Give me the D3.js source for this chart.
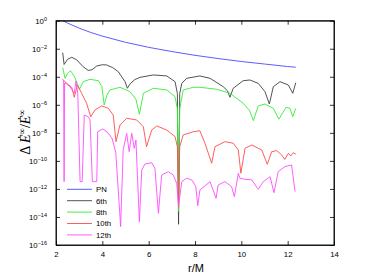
<!DOCTYPE html>
<html>
<head>
<meta charset="utf-8">
<script src="https://cdn.jsdelivr.net/npm/d3@7"></script>
<style>
  html, body { margin: 0; padding: 0; background: #fff; }
  svg { display: block; }
  .axis text { font-family: "Liberation Sans", Arial, sans-serif; font-size: 7.8px; fill: #000; }
  .axis path, .axis line { stroke: #000; stroke-width: 0.8; }
</style>
</head>
<body>
<svg id="chart" width="369" height="277"></svg>
<script>
// Values are [r/M, log10(relative error)]
const seriesNames = ['PN', '6th', '8th', '10th', '12th']
const seriesColors = ['#4a4aff', '#404040', '#33ee33', '#ff4c4c', '#ff4cff']

const pnData = [
  [2.29, 0], [2.5, -0.17], [3, -0.53], [3.5, -0.84], [4, -1.10], [5, -1.54], [6, -1.90],
  [7, -2.20], [8, -2.47], [9, -2.70], [10, -2.91], [11, -3.09], [12, -3.27], [12.35, -3.32]
]

const sixthData = [
  [2.29, -2.28], [2.35, -3.12], [2.5, -2.75], [2.68, -2.61], [2.9, -2.8], [3.15, -3.25], [3.39, -3.55],
  [3.55, -3.5], [3.76, -3.23], [4.0, -3.14], [4.19, -3.16], [4.45, -3.35], [4.69, -3.64], [4.98, -4.35],
  [5.08, -4.82], [5.2, -4.5], [5.4, -4.2], [5.63, -4.04], [6.2, -3.87], [6.78, -3.94], [7.14, -4.35],
  [7.24, -5.2], [7.29, -14.52], [7.34, -5.2], [7.43, -4.47], [7.64, -4.11], [8.21, -3.94], [8.65, -4.11],
  [9.22, -4.71], [9.4, -5.0], [9.51, -5.46], [9.65, -4.82], [10.08, -4.28], [10.37, -4.23], [10.73, -4.47],
  [11.02, -5.06], [11.21, -5.94], [11.38, -4.71], [11.67, -4.35], [12.03, -4.59], [12.22, -5.18], [12.35, -4.42]
]

const eighthData = [
  [2.29, -3.35], [2.39, -4.11], [2.5, -3.75], [2.63, -3.57], [2.8, -4.0], [2.95, -4.6], [3.01, -4.89],
  [3.18, -4.35], [3.47, -4.18], [3.83, -4.28], [3.98, -4.7], [4.08, -6.01], [4.2, -5.3], [4.33, -4.94],
  [4.76, -4.75], [5.19, -5.06], [5.45, -5.6], [5.6, -6.68], [5.77, -5.18], [6.2, -4.82], [6.78, -4.94],
  [7.14, -5.42], [7.24, -6.3], [7.29, -13.6], [7.34, -6.3], [7.49, -4.94], [7.93, -4.75], [8.21, -4.75],
  [8.94, -4.89], [9.51, -5.18], [10.08, -5.89], [10.35, -6.4], [10.52, -7.13], [10.73, -6.08],
  [11.02, -5.94], [11.38, -6.25], [11.62, -7.03], [11.93, -6.18], [12.1, -6.25], [12.22, -6.85], [12.35, -6.25]
]

const tenthData = [
  [2.29, -4.18], [2.46, -4.47], [2.68, -4.75], [2.79, -5.46], [2.92, -4.59], [3.11, -5.18], [3.32, -5.89],
  [3.5, -6.85], [3.68, -6.37], [3.97, -6.08], [4.26, -6.25], [4.47, -6.73], [4.59, -8.63], [4.76, -7.44],
  [5.05, -6.96], [5.48, -7.08], [5.77, -7.56], [5.91, -8.99], [6.13, -7.8], [6.35, -7.51], [6.78, -7.8],
  [7.14, -8.27], [7.24, -9.0], [7.29, -13.3], [7.34, -9.0], [7.49, -8.15], [7.93, -7.92], [8.21, -7.85],
  [8.43, -8.74], [8.72, -10.17], [8.86, -8.99], [9.29, -8.63], [9.65, -8.74], [9.87, -9.22], [9.98, -10.88],
  [10.16, -9.1], [10.45, -8.87], [10.88, -9.22], [11.12, -10.24], [11.31, -9.34], [11.53, -9.27],
  [11.74, -9.58], [11.88, -9.89], [12.03, -9.46], [12.13, -9.65], [12.24, -9.42], [12.35, -9.51]
]

const twelfthData = [
  [2.29, -4.2], [2.33, -4.3], [2.35, -11.48], [2.37, -4.45], [2.46, -4.5], [2.6, -4.71], [2.79, -5.18],
  [2.86, -4.3], [2.94, -5.18], [3.04, -11.48], [3.13, -11.48], [3.22, -6.73], [3.39, -6.85], [3.47, -7.08],
  [3.57, -11.48], [3.76, -11.48], [3.8, -7.92], [4.02, -7.72], [4.22, -7.95], [4.42, -8.4], [4.58, -9.4],
  [4.79, -14.69], [4.9, -9.22], [5.05, -8.03], [5.16, -9.34], [5.27, -8.03], [5.38, -9.1], [5.45, -8.51],
  [5.6, -14.34], [5.7, -10.65], [5.84, -10.22], [6.13, -10.13], [6.27, -10.53], [6.42, -13.74],
  [6.56, -11.01], [6.85, -10.77], [7.06, -11.01], [7.21, -11.6], [7.29, -13.2], [7.43, -11.48],
  [7.64, -11.24], [7.86, -11.36], [8.03, -11.8], [8.12, -13.2], [8.21, -12.08], [8.65, -11.48],
  [8.91, -12.67], [9.0, -11.72], [9.29, -11.48], [9.58, -11.84], [9.7, -12.55], [9.87, -10.88],
  [9.94, -11.24], [10.16, -11.31], [10.45, -11.36], [10.73, -12.03], [10.95, -11.48], [11.24, -11.13],
  [11.41, -12.27], [11.59, -10.77], [11.88, -10.41], [12.17, -10.29], [12.32, -12.2]
]

const seriesData = [pnData, sixthData, eighthData, tenthData, twelfthData]

const xTicks = [2, 4, 6, 8, 10, 12, 14]
const yTickExponents = [0, -2, -4, -6, -8, -10, -12, -14, -16]

const svg = d3.select('#chart')
const plot = { left: 56, right: 334, top: 20.7, bottom: 245 }

const x = d3.scaleLinear().domain([2, 14]).range([plot.left, plot.right])
const y = d3.scaleLog().domain([1e-16, 1]).range([plot.bottom, plot.top])

svg.append('defs').append('clipPath').attr('id', 'plotclip')
  .append('rect')
  .attr('x', plot.left).attr('y', plot.top)
  .attr('width', plot.right - plot.left).attr('height', plot.bottom - plot.top)

// lines
const line = d3.line()
  .x(d => x(d[0]))
  .y(d => y(Math.pow(10, d[1])))

const lines = svg.append('g').attr('clip-path', 'url(#plotclip)')
seriesData.forEach((data, i) => {
  lines.append('path')
    .datum(data)
    .attr('d', line)
    .attr('fill', 'none')
    .attr('stroke', seriesColors[i])
    .attr('stroke-width', 0.9)
    .attr('stroke-linejoin', 'round')
})

// axes, ticks inward
const yTicks = yTickExponents.map(e => Math.pow(10, e))

svg.append('g').attr('class', 'axis')
  .attr('transform', `translate(0,${plot.bottom})`)
  .call(d3.axisBottom(x).tickValues(xTicks).tickSize(-4).tickSizeOuter(0).tickPadding(6))

svg.append('g').attr('class', 'axis')
  .attr('transform', `translate(0,${plot.top})`)
  .call(d3.axisTop(x).tickValues(xTicks).tickSize(-4).tickSizeOuter(0).tickFormat(''))

const yAxis = svg.append('g').attr('class', 'axis')
  .attr('transform', `translate(${plot.left},0)`)
  .call(d3.axisLeft(y).tickValues(yTicks).tickSize(-4).tickSizeOuter(0).tickPadding(9).tickFormat(''))

yAxis.selectAll('.tick text').each(function (d) {
  const t = d3.select(this)
  const e = Math.round(Math.log10(d))
  t.append('tspan').text('10')
  t.append('tspan')
    .attr('dy', '-0.5em')
    .attr('font-size', '5.5px')
    .text(e === 0 ? '0' : '\u2212' + (-e))
})

svg.append('g').attr('class', 'axis')
  .attr('transform', `translate(${plot.right},0)`)
  .call(d3.axisRight(y).tickValues(yTicks).tickSize(-4).tickSizeOuter(0).tickFormat(''))

svg.append('rect')
  .attr('x', plot.left).attr('y', plot.top)
  .attr('width', plot.right - plot.left).attr('height', plot.bottom - plot.top)
  .attr('fill', 'none').attr('stroke', '#000').attr('stroke-width', 0.9)

// axis titles
svg.append('text')
  .attr('x', 196).attr('y', 272)
  .attr('text-anchor', 'middle')
  .attr('font-family', '"Liberation Sans", Arial, sans-serif')
  .attr('font-size', 11)
  .text('r/M')

const yTitle = svg.append('text')
  .attr('transform', `translate(30,132) rotate(-90)`)
  .attr('text-anchor', 'middle')
  .attr('font-family', '"Liberation Serif", "Times New Roman", serif')
  .attr('font-size', 14)
yTitle.append('tspan').text('\u0394 ')
yTitle.append('tspan').attr('font-style', 'italic').text('\u0116')
yTitle.append('tspan').attr('dy', -5.5).attr('font-size', 9).text('\u221e')
yTitle.append('tspan').attr('dy', 5.5).text('/')
yTitle.append('tspan').attr('font-style', 'italic').text('\u0116')
yTitle.append('tspan').attr('dy', -5.5).attr('font-size', 9).text('\u221e')

// legend
const legend = svg.append('g').attr('transform', 'translate(67,189.3)')
seriesNames.forEach((name, i) => {
  const row = legend.append('g').attr('transform', `translate(0,${i * 11.4})`)
  row.append('line')
    .attr('x1', 0).attr('x2', 25)
    .attr('stroke', seriesColors[i]).attr('stroke-width', 0.9)
  row.append('text')
    .attr('x', 29).attr('y', 2.8)
    .attr('font-family', '"Liberation Sans", Arial, sans-serif')
    .attr('font-size', 7.8)
    .text(name)
})
</script>
</body>
</html>
